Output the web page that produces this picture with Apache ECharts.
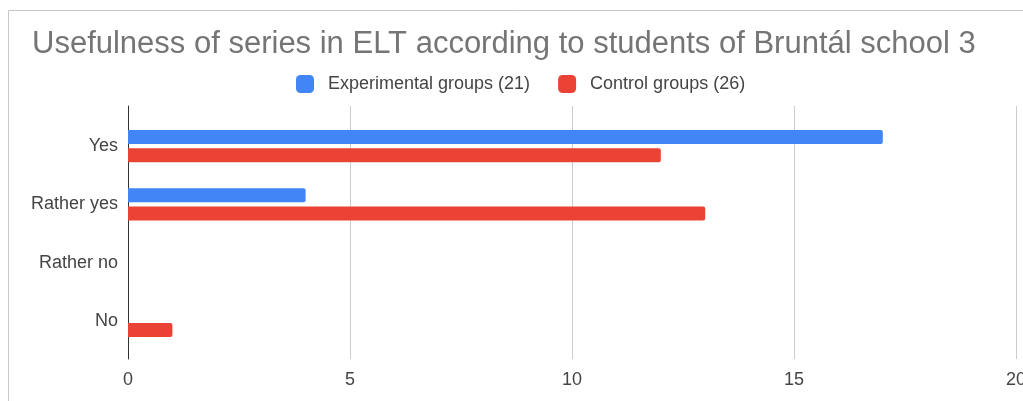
<!DOCTYPE html>
<html>
<head>
<meta charset="utf-8">
<script src="https://cdn.jsdelivr.net/npm/echarts@6/dist/echarts.min.js"></script>
<style>
html,body{margin:0;padding:0;background:#fff;}
#chart{width:1023px;height:401px;}
</style>
</head>
<body>
<div id="chart"></div>
<script>
const titleText = "Usefulness of series in ELT according to students of Bruntál school 3";
const categories = ["Yes", "Rather yes", "Rather no", "No"];
const seriesNames = ["Experimental groups (21)", "Control groups (26)"];
const experimental = [17, 4, 0, 0];
const control = [12, 13, 0, 1];
const xTicks = [0, 5, 10, 15, 20];

const chart = echarts.init(document.getElementById('chart'));
const font = "Arial, 'Liberation Sans', sans-serif";
chart.setOption({
  animation: false,
  textStyle: { fontFamily: font },
  graphic: [{
    type: 'rect', silent: true, z: -10,
    shape: { x: 8.5, y: 10.5, width: 1100, height: 500 },
    style: { fill: 'none', stroke: '#c8c8c8', lineWidth: 1 }
  }],
  title: {
    text: titleText, left: 27, top: 24,
    textStyle: { fontSize: 31, fontWeight: 'normal', color: '#757575', fontFamily: font }
  },
  legend: {
    left: 291, top: 70, itemWidth: 18, itemHeight: 18, itemGap: 28, icon: 'roundRect',
    textStyle: { fontSize: 18, color: '#444', padding: [0, 0, 0, 9], fontFamily: font },
    data: seriesNames
  },
  grid: [
    { left: 128, right: 7, top: 117, bottom: 51, outerBoundsMode: 'none', containLabel: false },
    { left: 128, right: 7, top: 106, bottom: 42, outerBoundsMode: 'none', containLabel: false }
  ],
  xAxis: [
    { gridIndex: 0, type: 'value', min: 0, max: 20, show: false },
    { gridIndex: 1, type: 'value', min: xTicks[0], max: xTicks[xTicks.length - 1], interval: 5,
      axisLine: { show: false }, axisTick: { show: false },
      splitLine: { show: true, lineStyle: { color: '#cccccc', width: 1 } },
      axisLabel: { fontSize: 18, color: '#444', margin: 12, fontFamily: font } }
  ],
  yAxis: [
    { gridIndex: 0, type: 'category', data: categories, inverse: true,
      axisLine: { show: false }, axisTick: { show: false },
      axisLabel: { fontSize: 18, color: '#444', margin: 10, fontFamily: font } },
    { gridIndex: 1, type: 'value', min: 0, max: 1,
      axisLine: { show: true, lineStyle: { color: '#333', width: 1 } },
      axisTick: { show: false }, axisLabel: { show: false }, splitLine: { show: false } }
  ],
  series: [
    { name: seriesNames[0], type: 'bar', xAxisIndex: 0, yAxisIndex: 0, data: experimental,
      barWidth: 14, barGap: '30%', itemStyle: { color: '#4285F4', borderRadius: [0, 2, 2, 0] } },
    { name: seriesNames[1], type: 'bar', xAxisIndex: 0, yAxisIndex: 0, data: control,
      barWidth: 14, barGap: '30%', itemStyle: { color: '#EA4335', borderRadius: [0, 2, 2, 0] } }
  ]
});
</script>
</body>
</html>
